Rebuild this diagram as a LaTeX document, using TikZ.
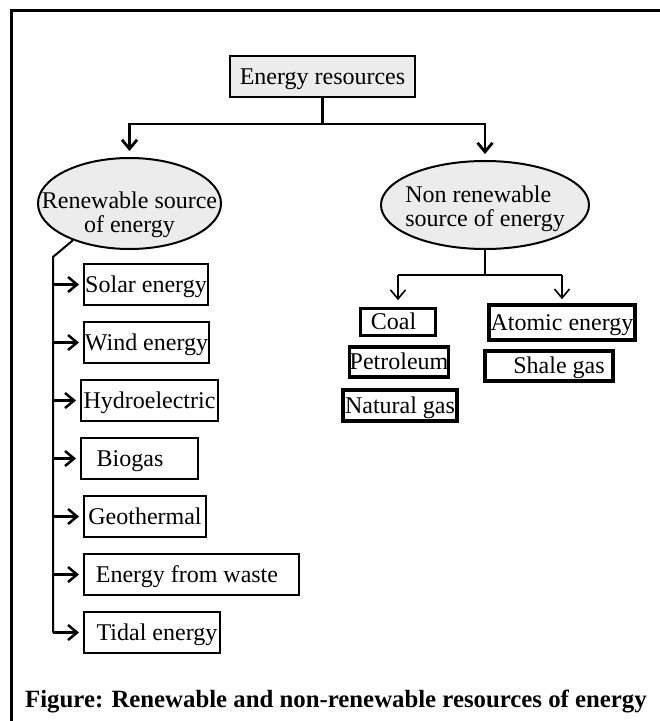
\documentclass[tikz,border=0pt]{standalone}
\usepackage{fontspec}
\setmainfont{Liberation Serif}
\usetikzlibrary{arrows.meta,positioning,shapes.geometric,calc}
\definecolor{resGray}{RGB}{236,236,236}

\begin{document}
\begin{tikzpicture}[x=1pt, y=-1pt,
    font=\fontsize{24}{24}\selectfont,
    frame/.style={line width=3pt},
    link/.style={line width=2.8pt},
    barb/.style={-{Straight Barb[length=9pt,width=15pt]}},
    rootbox/.style={draw, fill=resGray, line width=1.8pt, inner sep=0pt,
                    text height=20pt, text depth=5pt},
    oval/.style={ellipse, draw, fill=resGray, line width=2pt, inner sep=0pt},
    leaf/.style={draw, line width=2pt, inner sep=0pt, minimum height=41pt,
                 text height=20pt, text depth=5pt},
    heavy/.style={draw, line width=3.5pt, inner sep=0pt,
                  text height=20pt, text depth=5pt}
  ]
  \useasboundingbox (0,0) rectangle (660,721);
  \draw[frame] (11.5,721) -- (11.5,10) -- (660,10);

  % top of the tree
  \node[rootbox, minimum width=185pt, minimum height=41pt] (root) at (322.5,76.5) {Energy resources};
  \node[oval, minimum width=183pt, minimum height=91pt] (renew) at (129.5,203.5)
    {\raisebox{-18.7pt}[0pt][0pt]{\makebox[0pt]{\begin{tabular}{@{}c@{}}Renewable source\\of energy\end{tabular}}}};
  \node[oval, minimum width=208pt, minimum height=88pt] (nonren) at (485,205)
    {\raisebox{-11.2pt}[0pt][0pt]{\makebox[0pt]{\begin{tabular}{@{}l@{}}Non renewable\\source of energy\end{tabular}}}};

  \coordinate (hub) at ($(root.south)+(0,26)$);
  \draw[link] (root.south) -- (hub);
  \draw[link, barb, shorten >=6pt] (hub) -| (renew.north);
  \draw[link, barb, shorten >=6pt] (hub) -| (nonren.north);

  % renewable branch
  \node[leaf, minimum width=124pt] (solar) at (146,284.5) {Solar energy};
  \node[leaf, minimum width=125pt] (wind)  at (146.5,342.5) {Wind energy};
  \node[leaf, minimum width=137pt] (hydro) at (149.5,400.5) {Hydroelectric};
  \node[leaf, minimum width=117pt] (bio)   at (139.5,458.5) {Biogas\hspace*{19pt}};
  \node[leaf, minimum width=122pt] (geo)   at (145,516.5) {Geothermal};
  \node[leaf, minimum width=215pt] (waste) at (191.5,574.5) {Energy from waste\hspace*{9pt}};
  \node[leaf, minimum width=136pt] (tidal) at (152,632.5) {\hspace*{10pt}Tidal energy};

  \coordinate (bend) at (53,257);
  \draw[line width=2pt] (renew.213) -- (bend) -- (bend |- tidal.west);
  \foreach \n in {solar,wind,hydro,bio,geo,waste,tidal}
    \draw[line width=2.5pt, barb, shorten >=4pt] (bend |- \n.west) -- (\n.west);

  % non renewable branch
  \node[heavy, line width=2.8pt, minimum width=75pt, minimum height=27pt] (coal) at (398,322) {\hspace*{-9pt}Coal};
  \node[heavy, minimum width=96pt, minimum height=30pt] (petrol) at (399,362) {Petroleum};
  \node[heavy, minimum width=114pt, minimum height=31pt] (natgas) at (400,405.5) {Natural gas};
  \node[heavy, minimum width=146pt, minimum height=35pt] (atomic) at (562,322.5) {Atomic energy};
  \node[heavy, minimum width=128pt, minimum height=30pt] (shale) at (549,366) {\hspace*{20pt}Shale gas};

  \coordinate (hubr) at ($(nonren.south)+(0,25)$);
  \draw[link] (nonren.south) -- (hubr);
  \draw[link] (coal.north |- hubr) -- (atomic.north |- hubr);
  \draw[line width=1.6pt, barb, shorten >=7pt] (coal.north |- hubr) -- (coal.north);
  \draw[line width=1.6pt, barb, shorten >=4pt] (atomic.north |- hubr) -- (atomic.north);

  \node[anchor=base west, inner sep=0pt, font=\fontsize{24.8}{25}\selectfont\bfseries] (caption) at (25,707)
    {Figure: Renewable and non-renewable resources of energy};
\end{tikzpicture}
\end{document}
